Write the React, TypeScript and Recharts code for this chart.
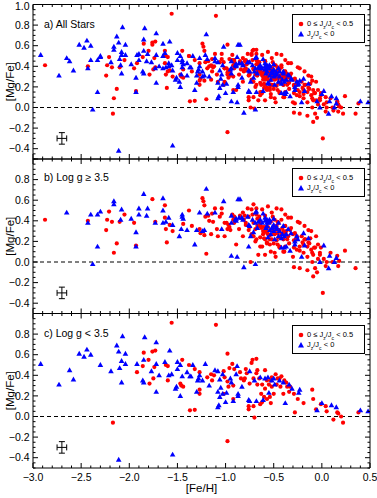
import React from 'react';
import { ScatterChart, Scatter, XAxis, YAxis, ReferenceLine, ErrorBar, Legend, Label } from 'recharts';

type P = [number, number];

// Panel b (log g >= 3.5), 0 <= Jz/Jc < 0.5 (red circles)
const dwarfsRed: P[] = [
  [-2.875, 0.41], [-2.43, 0.40], [-2.24, 0.31], [-2.23, 0.41], [-2.21, 0.49], [-2.18, 0.39], [-2.16, 0.09],
  [-2.13, 0.18], [-2.10, 0.39], [-2.05, 0.46], [-1.95, 0.38], [-1.93, 0.16], [-1.76, 0.61], [-1.73, 0.39],
  [-1.63, 0.55], [-1.63, 0.43], [-1.62, 0.32], [-1.61, 0.19], [-1.58, 0.36], [-1.55, 0.30], [-1.44, 0.37],
  [-1.38, 0.50], [-1.35, 0.35], [-1.27, 0.32], [-1.26, 0.28], [-1.24, 0.62], [-1.23, 0.59], [-1.22, 0.55],
  [-1.22, 0.26], [-1.21, 0.44], [-1.20, 0.08], [-1.18, 0.45], [-1.17, 0.40], [-1.15, 0.27], [-1.14, 0.47],
  [-1.13, 0.39], [-1.11, 0.52], [-1.09, 0.32], [-1.08, 0.25], [-1.06, 0.44], [-1.04, 0.47], [-1.04, 0.52],
  [-1.01, 0.25], [-1.01, 0.38], [-0.99, 0.38], [-0.98, 0.32], [-0.97, 0.36], [-0.96, 0.34], [-0.93, 0.46],
  [-0.92, 0.41], [-0.91, 0.38], [-0.89, 0.17], [-0.86, 0.32], [-0.85, 0.45], [-0.82, 0.25], [-0.81, 0.41],
  [-0.80, 0.45], [-0.79, 0.38], [-0.77, 0.52], [-0.76, 0.44], [-0.75, 0.34], [-0.74, 0.00], [-0.73, 0.27],
  [-0.73, 0.51], [-0.72, 0.46], [-0.71, 0.38], [-0.71, 0.56], [-0.69, 0.32], [-0.69, 0.20], [-0.68, 0.22],
  [-0.67, 0.35], [-0.67, 0.42], [-0.66, 0.07], [-0.65, 0.44], [-0.64, 0.36], [-0.64, 0.38], [-0.64, 0.24],
  [-0.63, 0.33], [-0.62, 0.15], [-0.62, 0.34], [-0.61, 0.27], [-0.60, 0.34], [-0.60, 0.29], [-0.60, 0.23],
  [-0.59, 0.07], [-0.59, 0.22], [-0.59, 0.45], [-0.57, 0.29], [-0.57, 0.19], [-0.57, 0.30], [-0.56, 0.34],
  [-0.54, 0.17], [-0.54, 0.26], [-0.53, 0.10], [-0.53, 0.39], [-0.52, 0.22], [-0.52, 0.48], [-0.51, 0.32],
  [-0.51, 0.44], [-0.50, 0.28], [-0.49, 0.41], [-0.49, 0.27], [-0.48, 0.05], [-0.48, 0.34], [-0.47, 0.21],
  [-0.46, 0.28], [-0.46, 0.39], [-0.45, 0.38], [-0.45, 0.24], [-0.44, 0.15], [-0.44, 0.31], [-0.44, 0.14],
  [-0.43, 0.24], [-0.42, 0.41], [-0.42, 0.51], [-0.40, 0.22], [-0.40, 0.30], [-0.39, 0.10], [-0.38, 0.28],
  [-0.38, 0.35], [-0.36, 0.22], [-0.35, 0.43], [-0.33, 0.31], [-0.30, 0.05], [-0.30, 0.27], [-0.29, -0.05],
  [-0.29, 0.21], [-0.27, 0.22], [-0.26, 0.12], [-0.26, 0.25], [-0.23, 0.15], [-0.23, -0.06], [-0.23, 0.38],
  [-0.23, 0.11], [-0.20, 0.19], [-0.19, 0.09], [-0.19, 0.17], [-0.17, 0.22], [-0.15, -0.08], [-0.15, 0.05],
  [-0.14, 0.19], [-0.14, 0.31], [-0.12, 0.23], [-0.11, 0.12], [-0.10, 0.00], [-0.10, 0.09], [-0.09, -0.14],
  [-0.09, 0.07], [-0.08, 0.14], [-0.07, -0.06], [-0.05, -0.10], [-0.04, 0.03], [-0.02, 0.07], [-0.01, 0.14],
  [0.01, -0.30], [0.02, 0.03], [0.04, -0.04], [0.05, 0.00], [0.09, 0.09], [0.11, 0.00], [0.16, 0.06],
  [0.17, -0.04], [0.18, 0.01], [0.24, 0.11], [0.35, -0.06],
  [-0.68, 0.46], [-0.65, 0.35], [-0.61, 0.30], [-0.58, 0.34], [-0.56, 0.27], [-0.51, 0.32], [-0.48, 0.28],
  [-0.47, 0.35], [-0.42, 0.27], [-0.41, 0.33], [-0.37, 0.30], [-0.35, 0.25], [-0.32, 0.33], [-0.28, 0.28],
  [-0.26, 0.22], [-0.21, 0.25], [-0.18, 0.22], [-0.15, 0.15], [-0.13, 0.18], [-0.07, 0.14], [-0.04, 0.17],
  [-0.02, 0.09], [-0.54, 0.22], [-0.50, 0.18], [-0.57, 0.18], [-0.64, 0.15], [-0.46, 0.17], [-0.38, 0.15],
  [-0.34, 0.18], [-0.29, 0.14], [-0.40, 0.10], [-0.49, 0.09], [-0.71, 0.25], [-0.76, 0.31], [-0.79, 0.36],
  [-0.82, 0.48], [-0.91, 0.44], [-0.95, 0.31], [-0.68, 0.52], [-0.62, 0.51], [-0.56, 0.54], [-0.47, 0.52],
  [-0.38, 0.46], [-0.32, 0.43], [-0.25, 0.39], [-0.18, 0.35], [-0.11, 0.30], [-0.06, 0.25],
];

// Panel b (log g >= 3.5), Jz/Jc < 0 (blue triangles)
const dwarfsBlue: P[] = [
  [-2.65, 0.48], [-2.43, 0.38], [-2.40, 0.46], [-2.33, 0.15], [-2.33, 0.46], [-2.30, 0.49], [-2.38, -0.02],
  [-2.16, 0.59], [-2.16, 0.56], [-2.09, 0.41], [-2.08, 0.51], [-1.98, 0.42], [-1.93, 0.29], [-1.93, 0.15],
  [-1.90, 0.52], [-1.90, 0.46], [-1.85, 0.66], [-1.82, 0.45], [-1.81, 0.52], [-1.73, 0.38], [-1.65, 0.62],
  [-1.65, 0.50], [-1.65, 0.38], [-1.62, 0.39], [-1.59, 0.43], [-1.55, 0.36], [-1.48, 0.25], [-1.45, 0.44],
  [-1.45, 0.46], [-1.46, 0.32], [-1.44, 0.42], [-1.40, 0.31], [-1.32, 0.17], [-1.30, 0.31], [-1.27, 0.48],
  [-1.24, 0.30], [-1.22, 0.31], [-1.20, 0.71], [-1.19, 0.47], [-1.11, 0.48], [-1.04, 0.32], [-1.02, 0.59],
  [-0.94, 0.06], [-0.94, 0.38], [-0.94, 0.45], [-0.90, 0.41], [-0.89, 0.42], [-0.88, 0.05], [-0.89, 0.40],
  [-0.87, 0.61], [-0.86, 0.43], [-0.85, 0.61], [-0.83, 0.43], [-0.82, 0.41], [-0.81, -0.05], [-0.77, 0.44],
  [-0.76, 0.15], [-0.76, 0.36], [-0.75, 0.35], [-0.74, 0.25], [-0.72, 0.41], [-0.71, 0.29], [-0.69, -0.02],
  [-0.69, 0.48], [-0.68, 0.49], [-0.67, 0.33], [-0.66, 0.39], [-0.62, 0.38], [-0.61, 0.47], [-0.59, 0.40],
  [-0.58, 0.33], [-0.57, 0.38], [-0.57, 0.41], [-0.56, 0.24], [-0.55, 0.38], [-0.54, 0.31], [-0.54, 0.40],
  [-0.53, 0.27], [-0.52, 0.33], [-0.51, 0.34], [-0.50, 0.36], [-0.49, 0.22], [-0.47, 0.34], [-0.47, 0.32],
  [-0.45, 0.25], [-0.44, 0.30], [-0.42, 0.14], [-0.41, 0.27], [-0.39, 0.25], [-0.39, 0.14], [-0.37, 0.15],
  [-0.37, 0.27], [-0.33, 0.11], [-0.32, 0.28], [-0.28, 0.17], [-0.26, 0.25], [-0.25, 0.22], [-0.21, 0.05],
  [-0.18, 0.16], [-0.02, 0.00], [0.02, 0.16], [0.07, -0.06], [0.08, 0.06], [0.13, 0.00], [0.15, 0.04],
  [-0.59, 0.43], [-0.545, 0.41], [-0.50, 0.42], [-0.45, 0.38], [-0.40, 0.35], [-0.35, 0.32], [-0.64, 0.41],
  [-0.69, 0.38], [-0.57, 0.35], [-0.50, 0.30], [-0.42, 0.23], [-0.19, 0.28], [-0.14, 0.23], [-0.28, 0.20],
];

// Panel c (log g < 3.5), 0 <= Jz/Jc < 0.5 (red circles)
const giantsRed: P[] = [
  [-2.17, -0.06], [-1.92, 0.43], [-1.85, 0.62], [-1.86, 0.49], [-1.80, 0.55], [-1.79, 0.32], [-1.76, 0.63],
  [-1.75, 0.37], [-1.74, 0.48], [-1.73, 0.64], [-1.62, 0.50], [-1.60, 0.49], [-1.60, 0.35], [-1.56, 0.91],
  [-1.47, 0.32], [-1.46, 0.30], [-1.45, 0.55], [-1.44, 0.29], [-1.38, 0.50], [-1.37, 0.06], [-1.32, 0.46],
  [-1.32, 0.065], [-1.27, 0.43], [-1.27, 0.26], [-1.27, 0.22], [-1.19, 0.38], [-1.15, 0.41], [-1.14, 0.35],
  [-1.12, 0.40], [-1.10, 0.89], [-1.02, 0.44], [-1.02, 0.22], [-1.01, 0.38], [-0.98, 0.61], [-0.98, 0.34],
  [-0.98, -0.24], [-0.97, 0.29], [-0.96, 0.47], [-0.93, 0.51], [-0.92, 0.30], [-0.92, 0.17], [-0.91, 0.46],
  [-0.85, 0.43], [-0.84, 0.37], [-0.81, 0.35], [-0.80, 0.37], [-0.79, 0.46], [-0.78, 0.42], [-0.76, 0.10],
  [-0.76, 0.07], [-0.75, 0.32], [-0.73, 0.52], [-0.72, 0.55], [-0.71, 0.37], [-0.71, 0.10], [-0.70, -0.01],
  [-0.68, 0.56], [-0.68, 0.42], [-0.67, 0.31], [-0.67, 0.45], [-0.65, 0.37], [-0.64, 0.12], [-0.63, 0.22],
  [-0.62, 0.14], [-0.62, 0.31], [-0.60, 0.19], [-0.59, 0.45], [-0.59, 0.27], [-0.57, 0.35], [-0.57, 0.17],
  [-0.55, 0.31], [-0.54, 0.19], [-0.53, 0.35], [-0.53, 0.13], [-0.52, 0.38], [-0.52, 0.29], [-0.50, 0.22],
  [-0.48, 0.41], [-0.47, 0.31], [-0.46, 0.37], [-0.44, 0.37], [-0.43, 0.29], [-0.42, 0.39], [-0.40, 0.22],
  [-0.39, 0.35], [-0.37, 0.33], [-0.36, 0.29], [-0.34, 0.24], [-0.33, 0.29], [-0.29, 0.22], [-0.28, 0.04],
  [-0.25, 0.17], [-0.19, 0.13], [-0.10, 0.26], [-0.09, 0.17], [-0.06, 0.07], [-0.01, 0.12], [0.04, 0.10],
  [0.05, 0.05], [0.12, -0.03], [0.16, 0.04], [0.17, 0.03], [0.20, 0.00], [0.22, -0.06], [0.38, 0.04],
];

// Panel c (log g < 3.5), Jz/Jc < 0 (blue triangles)
const giantsBlue: P[] = [
  [-2.92, 0.51], [-2.73, 0.31], [-2.62, 0.45], [-2.58, 0.36], [-2.52, 0.61], [-2.47, 0.58], [-2.44, 0.65],
  [-2.40, 0.60], [-2.30, 0.50], [-2.19, 0.44], [-2.13, 0.69], [-2.11, 0.63], [-2.11, -0.42], [-2.10, 0.47],
  [-2.08, 0.54], [-2.08, 0.33], [-2.07, 0.78], [-2.04, 0.61], [-2.04, 0.51], [-1.92, 0.51], [-1.86, 0.35],
  [-1.85, 0.55], [-1.85, 0.33], [-1.84, 0.77], [-1.77, 0.44], [-1.72, 0.72], [-1.72, 0.51], [-1.72, 0.24],
  [-1.69, 0.40], [-1.63, 0.53], [-1.59, 0.40], [-1.58, 0.64], [-1.56, 0.41], [-1.55, -0.37], [-1.52, 0.27],
  [-1.51, 0.29], [-1.50, 0.53], [-1.50, 0.46], [-1.47, 0.50], [-1.47, 0.20], [-1.45, 0.39], [-1.40, 0.43],
  [-1.37, 0.39], [-1.36, 0.39], [-1.34, 0.50], [-1.30, 0.24], [-1.29, 0.35], [-1.28, 0.37], [-1.27, 0.40],
  [-1.24, 0.35], [-1.21, 0.51], [-1.17, 0.30], [-1.11, 0.45], [-1.08, 0.44], [-1.08, 0.24], [-1.08, 0.09],
  [-1.07, 0.11], [-1.06, 0.36], [-1.06, 0.19], [-1.05, 0.28], [-1.03, 0.22], [-1.03, 0.41], [-1.00, 0.14],
  [-0.99, 0.23], [-0.95, 0.37], [-0.94, 0.33], [-0.92, 0.15], [-0.89, 0.41], [-0.88, 0.49], [-0.87, 0.22],
  [-0.87, 0.20], [-0.83, 0.29], [-0.76, 0.16], [-0.75, 0.44], [-0.75, 0.15], [-0.70, 0.35], [-0.68, 0.15],
  [-0.64, 0.38], [-0.61, 0.16], [-0.59, 0.37], [-0.56, 0.38], [-0.55, 0.23], [-0.52, 0.35], [-0.50, 0.37],
  [-0.49, 0.31], [-0.44, 0.35], [-0.40, 0.33], [-0.38, 0.13], [-0.34, 0.31], [-0.31, 0.27], [-0.24, 0.23],
  [-0.23, 0.26], [-0.05, 0.06], [0.00, 0.13], [0.10, 0.11], [0.15, 0.09], [0.40, 0.06], [0.48, 0.05],
];

const xMajorLabels = [-3.0, -2.5, -2.0, -1.5, -1.0, -0.5, 0.0, 0.5];
const yMajorLabels = [-0.4, -0.2, 0.0, 0.2, 0.4, 0.6, 0.8, 1.0];
const panelTitles = ['a) All Stars', 'b) Log g \u2265 3.5', 'c) Log g < 3.5'];
const errorBarPoint = [{ x: -2.7, y: -0.3, ex: 0.05, ey: 0.056 }];

const X_DOMAIN: [number, number] = [-3.0, 0.5];
const Y_DOMAIN: [number, number] = [-0.5, 1.0];
const xTicks = Array.from({ length: 36 }, (_, i) => Math.round((-3 + i * 0.1) * 10) / 10);
const yTicks = Array.from({ length: 31 }, (_, i) => Math.round((-0.5 + i * 0.05) * 100) / 100);

const FONT = '"Liberation Sans", Arial, Helvetica, sans-serif';
const W = 377;
const H = 498;
const RED = '#ff0000';
const BLUE = '#0000ff';

const isMult = (v: number, step: number) => Math.abs(v / step - Math.round(v / step)) < 1e-6;
const fmt = (v: number) => (v < -1e-9 ? '\u2212' : '') + Math.abs(v).toFixed(1);
const isXLabel = (v: number) => xMajorLabels.some((m) => Math.abs(m - v) < 1e-6);

const BottomTick = (props: any) => {
  const { x, y, payload, showLabel } = props;
  const v = payload.value;
  const major = isMult(v, 0.5);
  return (
    <g>
      <line x1={x} x2={x} y1={y} y2={y - (major ? 5 : 2.5)} stroke="#000" strokeWidth={1} />
      {showLabel && isXLabel(v) ? (
        <text x={x} y={y + 13} textAnchor="middle" fontSize={10.5} fontFamily={FONT} fill="#000">
          {fmt(v)}
        </text>
      ) : null}
    </g>
  );
};

const TopTick = (props: any) => {
  const { x, y, payload } = props;
  const major = isMult(payload.value, 0.5);
  return <line x1={x} x2={x} y1={y} y2={y + (major ? 5 : 2.5)} stroke="#000" strokeWidth={1} />;
};

const LeftTick = (props: any) => {
  const { x, y, payload, maxLabel } = props;
  const v = payload.value;
  const major = isMult(v, 0.2);
  const show = yMajorLabels.some((m) => Math.abs(m - v) < 1e-6) && v <= maxLabel + 1e-6;
  const shift = v > 0.99 ? 1.5 : 0;
  return (
    <g>
      <line x1={x} x2={x + (major ? 5 : 2.5)} y1={y} y2={y} stroke="#000" strokeWidth={1} />
      {show ? (
        <text x={x - 3.5} y={y + shift} dy="0.35em" textAnchor="end" fontSize={10.5} fontFamily={FONT} fill="#000">
          {fmt(v)}
        </text>
      ) : null}
    </g>
  );
};

const RightTick = (props: any) => {
  const { x, y, payload } = props;
  const major = isMult(payload.value, 0.2);
  return <line x1={x} x2={x - (major ? 5 : 2.5)} y1={y} y2={y} stroke="#000" strokeWidth={1} />;
};

const circleShape = (p: any) => <circle cx={p.cx} cy={p.cy} r={2.1} fill={RED} />;
const triShape = (p: any) => (
  <path
    d={`M${p.cx},${p.cy - 2.9}L${p.cx + 2.8},${p.cy + 2}L${p.cx - 2.8},${p.cy + 2}Z`}
    fill={BLUE}
  />
);
const noShape = () => <g />;

const LegendBox = () => (
  <div
    style={{
      position: 'relative',
      width: 73,
      height: 29,
      boxSizing: 'border-box',
      border: '1.2px solid #000',
      background: '#fff',
      fontFamily: FONT,
      fontSize: 7.5,
      color: '#000',
      lineHeight: 1,
    }}
  >
    <svg width={10} height={28} style={{ position: 'absolute', left: 3, top: 0 }}>
      <circle cx={5} cy={9} r={2.3} fill={RED} />
      <path d="M5,16 L8,21.5 L2,21.5 Z" fill={BLUE} />
    </svg>
    <div style={{ position: 'absolute', left: 14, top: 4.5, whiteSpace: 'nowrap' }}>
      0 {'\u2264'} J<sub style={{ fontSize: 5 }}>z</sub>/J<sub style={{ fontSize: 5 }}>c</sub> &lt; 0.5
    </div>
    <div style={{ position: 'absolute', left: 14, top: 14.5, whiteSpace: 'nowrap' }}>
      J<sub style={{ fontSize: 5 }}>z</sub>/J<sub style={{ fontSize: 5 }}>c</sub> &lt; 0
    </div>
  </div>
);

type PanelProps = {
  red: P[];
  blue: P[];
  top: number;
  bottom: number;
  title: string;
  titleY: number;
  maxYLabel: number;
  showX: boolean;
  legendTop: number;
};

function Panel({ red, blue, top, bottom, title, titleY, maxYLabel, showX, legendTop }: PanelProps) {
  const redData = red.map(([x, y]) => ({ x, y }));
  const blueData = blue.map(([x, y]) => ({ x, y }));
  const ph = bottom - top;
  return (
    <div style={{ position: 'absolute', left: 0, top: 0 }}>
      <ScatterChart width={W} height={H} margin={{ top: top - 1, bottom: H - bottom - 1, left: 0, right: 0 }}>
        <XAxis
          xAxisId="b"
          type="number"
          dataKey="x"
          orientation="bottom"
          domain={X_DOMAIN}
          allowDataOverflow
          ticks={xTicks}
          interval={0}
          height={1}
          tickSize={0}
          tickMargin={0}
          tickLine={false}
          axisLine={{ stroke: '#000', strokeWidth: 1 }}
          tick={(p: any) => <BottomTick {...p} showLabel={showX} />}
        >
          {showX ? (
            <Label
              content={() => (
                <text x={33 + 337 / 2} y={492} textAnchor="middle" fontSize={11.5} fontFamily={FONT} fill="#000">
                  [Fe/H]
                </text>
              )}
            />
          ) : null}
        </XAxis>
        <XAxis
          xAxisId="t"
          type="number"
          dataKey="x"
          orientation="top"
          domain={X_DOMAIN}
          allowDataOverflow
          ticks={xTicks}
          interval={0}
          height={1}
          tickSize={0}
          tickMargin={0}
          tickLine={false}
          axisLine={{ stroke: '#000', strokeWidth: 1 }}
          tick={(p: any) => <TopTick {...p} />}
        >
          <Label
            content={() => (
              <text x={44} y={titleY} fontSize={10.5} fontFamily={FONT} fill="#000">
                {title}
              </text>
            )}
          />
        </XAxis>
        <YAxis
          yAxisId="l"
          type="number"
          dataKey="y"
          orientation="left"
          domain={Y_DOMAIN}
          allowDataOverflow
          ticks={yTicks}
          interval={0}
          width={33}
          tickSize={0}
          tickMargin={0}
          tickLine={false}
          axisLine={{ stroke: '#000', strokeWidth: 1 }}
          tick={(p: any) => <LeftTick {...p} maxLabel={maxYLabel} />}
        >
          <Label
            content={() => (
              <text
                x={10}
                y={top + ph / 2}
                transform={`rotate(-90, 10, ${top + ph / 2})`}
                textAnchor="middle"
                dominantBaseline="central"
                fontSize={11.5}
                fontFamily={FONT}
                fill="#000"
              >
                [Mg/Fe]
              </text>
            )}
          />
        </YAxis>
        <YAxis
          yAxisId="r"
          type="number"
          dataKey="y"
          orientation="right"
          domain={Y_DOMAIN}
          allowDataOverflow
          ticks={yTicks}
          interval={0}
          width={7}
          tickSize={0}
          tickMargin={0}
          tickLine={false}
          axisLine={{ stroke: '#000', strokeWidth: 1 }}
          tick={(p: any) => <RightTick {...p} />}
        />
        <ReferenceLine xAxisId="b" yAxisId="l" y={0} stroke="#000" strokeWidth={1} strokeDasharray="4 3" />
        <Scatter xAxisId="t" yAxisId="r" data={errorBarPoint} shape={noShape} isAnimationActive={false} legendType="none" />
        <Scatter xAxisId="b" yAxisId="l" name="0 <= Jz/Jc < 0.5" data={redData} shape={circleShape} isAnimationActive={false} />
        <Scatter xAxisId="b" yAxisId="l" name="Jz/Jc < 0" data={blueData} shape={triShape} isAnimationActive={false} />
        <Scatter xAxisId="b" yAxisId="l" data={errorBarPoint} shape={noShape} isAnimationActive={false} legendType="none">
          <ErrorBar dataKey="ex" direction="x" width={3} stroke="#000" strokeWidth={1} isAnimationActive={false} />
          <ErrorBar dataKey="ey" direction="y" width={3} stroke="#000" strokeWidth={1} isAnimationActive={false} />
        </Scatter>
        <Legend
          layout="vertical"
          align="center"
          verticalAlign="middle"
          content={() => <LegendBox />}
          wrapperStyle={{ position: 'absolute', left: 292, top: legendTop, width: 73, height: 29 }}
        />
      </ScatterChart>
    </div>
  );
}

export default function App() {
  return (
    <div style={{ position: 'absolute', left: 0, top: 0, width: W, height: H, background: '#fff' }}>
      <Panel
        red={[...dwarfsRed, ...giantsRed]}
        blue={[...dwarfsBlue, ...giantsBlue]}
        top={4.5}
        bottom={159}
        title={panelTitles[0]}
        titleY={27.5}
        maxYLabel={1.0}
        showX={false}
        legendTop={14}
      />
      <Panel
        red={dwarfsRed}
        blue={dwarfsBlue}
        top={159}
        bottom={313.5}
        title={panelTitles[1]}
        titleY={180.5}
        maxYLabel={0.8}
        showX={false}
        legendTop={168}
      />
      <Panel
        red={giantsRed}
        blue={giantsBlue}
        top={313.5}
        bottom={468}
        title={panelTitles[2]}
        titleY={337}
        maxYLabel={0.8}
        showX={true}
        legendTop={325}
      />
    </div>
  );
}
